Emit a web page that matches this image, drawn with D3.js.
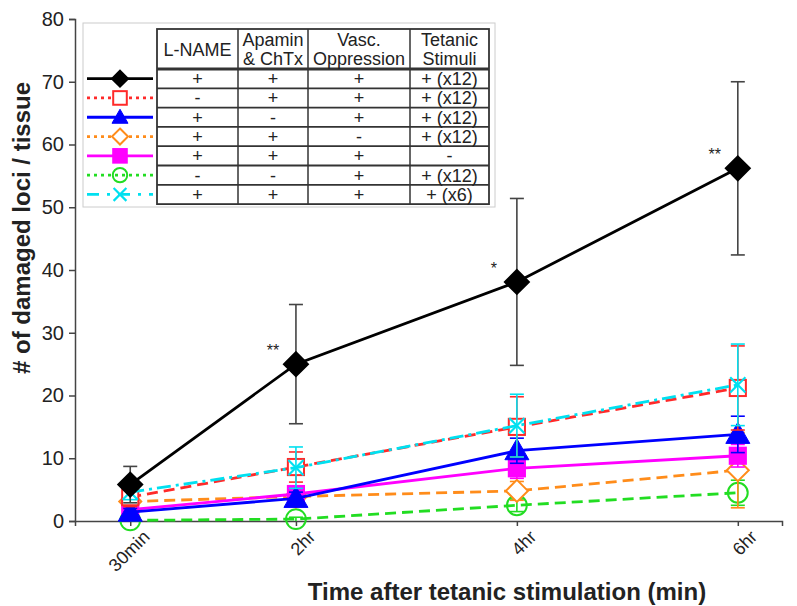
<!DOCTYPE html>
<html>
<head>
<meta charset="utf-8">
<script src="https://cdn.jsdelivr.net/npm/d3@7"></script>
<style>
  body { margin: 0; background: #fff; }
  text { font-family: Arial, "Liberation Sans", sans-serif; fill: #222; }
</style>
</head>
<body>
<div id="chart"></div>
<script>
// data
var times = [0.5, 2, 4, 6];            // hours
var timeLabels = ['30min', '2hr', '4hr', '6hr'];
var yTicks = [0, 10, 20, 30, 40, 50, 60, 70, 80];

var blackVals = [5.8, 25.0, 38.1, 56.2];
var blackErr = [2.9, 9.5, 13.3, 13.8];
var redVals = [3.8, 8.6, 15.0, 21.2];
var redErr = [1.5, 2.4, 4.8, 6.7];
var blueVals = [1.4, 3.6, 11.2, 13.8];
var blueErr = [0.6, 1.0, 2.0, 2.9];
var orangeVals = [3.1, 3.9, 4.8, 8.1];
var orangeErr = [0.8, 1.0, 1.5, 6.0];
var magentaVals = [1.8, 4.3, 8.4, 10.4];
var magentaErr = [0.6, 1.0, 1.6, 1.8];
var greenVals = [0.1, 0.3, 2.5, 4.5];
var greenErr = [0.3, 0.3, 1.0, 2.0];
var cyanVals = [4.6, 8.5, 15.2, 21.7];
var cyanErr = [1.2, 3.3, 5.0, 6.5];

var legendHeader = [['L-NAME'], ['Apamin', '& ChTx'], ['Vasc.', 'Oppression'], ['Tetanic', 'Stimuli']];
var legendCells = [
  ['+', '+', '+', '+ (x12)'],
  ['-', '+', '+', '+ (x12)'],
  ['+', '-', '+', '+ (x12)'],
  ['+', '+', '-', '+ (x12)'],
  ['+', '+', '+', '-'],
  ['-', '-', '+', '+ (x12)'],
  ['+', '+', '+', '+ (x6)']
];

var stars = [{t: 2, v: 25.0, s: '**'}, {t: 4, v: 38.1, s: '*'}, {t: 6, v: 56.2, s: '**'}];

var series = [
  {name: 'black', vals: blackVals, err: blackErr, color: '#000', errColor: '#444', dash: null, legDash: null, shape: 'diamond', fill: true, size: 24},
  {name: 'red', vals: redVals, err: redErr, color: '#ff2a2a', errColor: '#ff2a2a', dash: '11,6', legDash: '3,4', shape: 'square', fill: false, size: 19},
  {name: 'blue', vals: blueVals, err: blueErr, color: '#0000ff', errColor: '#0000ff', dash: null, legDash: null, shape: 'triangle', fill: true, size: 24},
  {name: 'orange', vals: orangeVals, err: orangeErr, color: '#ff8c1a', errColor: '#ff8c1a', dash: '11,6', legDash: '3,4', shape: 'diamond', fill: false, size: 22},
  {name: 'magenta', vals: magentaVals, err: magentaErr, color: '#ff00ff', errColor: '#ff00ff', dash: null, legDash: null, shape: 'square', fill: true, size: 19},
  {name: 'green', vals: greenVals, err: greenErr, color: '#22dd22', errColor: '#22dd22', dash: '11,6', legDash: '3,4', shape: 'circle', fill: false, size: 22},
  {name: 'cyan', vals: cyanVals, err: cyanErr, color: '#00e0f0', errColor: '#00e0f0', dash: '14,5,3,5', legDash: '12,8,3,8', shape: 'cross', fill: false, size: 19}
];
var drawOrder = ['green', 'orange', 'magenta', 'blue', 'red', 'cyan', 'black'];

var width = 797, height = 606;

var svg = d3.select('#chart').append('svg')
  .attr('width', width)
  .attr('height', height);

var x = d3.scaleLinear().domain([0, 6.4]).range([75, 782]);
var y = d3.scaleLinear().domain([0, 80]).range([521, 19]);

// axes
var yAxis = svg.append('g')
  .attr('transform', 'translate(75,0)')
  .call(d3.axisLeft(y).tickValues(yTicks).tickSize(6).tickPadding(5));
yAxis.select('.domain').attr('stroke', '#444').attr('stroke-width', 1.5);
yAxis.selectAll('.tick line').attr('stroke', '#444').attr('stroke-width', 1.5);
yAxis.selectAll('.tick text')
  .style('font-family', 'Arial, "Liberation Sans", sans-serif')
  .style('font-size', '20px').attr('fill', '#222');

var xAxis = svg.append('g')
  .attr('transform', 'translate(0,521)')
  .call(d3.axisBottom(x).tickValues(times).tickSize(5).tickFormat(function(d, i) { return timeLabels[i]; }));
xAxis.select('.domain').attr('stroke', '#444').attr('stroke-width', 1.5);
xAxis.selectAll('.tick line').attr('stroke', '#444').attr('stroke-width', 1.5);
xAxis.selectAll('.tick text')
  .style('font-family', 'Arial, "Liberation Sans", sans-serif')
  .style('font-size', '18px').attr('fill', '#222')
  .attr('text-anchor', 'end')
  .attr('y', 0).attr('dy', 0)
  .attr('transform', 'translate(20,17) rotate(-45)');

// titles
svg.append('text')
  .attr('transform', 'translate(30,228) rotate(-90)')
  .attr('text-anchor', 'middle')
  .style('font-size', '24px').style('font-weight', 'bold')
  .text('# of damaged loci / tissue');

svg.append('text')
  .attr('x', 507).attr('y', 600)
  .attr('text-anchor', 'middle')
  .style('font-size', '24px').style('font-weight', 'bold')
  .text('Time after tetanic stimulation (min)');

// marker drawing
function drawMarker(g, s, cx, cy, size) {
  var h = size / 2;
  var fill = s.fill ? s.color : '#fff';
  if (s.shape === 'diamond') {
    g.append('path').attr('d', 'M' + cx + ',' + (cy - h) + 'L' + (cx + h) + ',' + cy + 'L' + cx + ',' + (cy + h) + 'L' + (cx - h) + ',' + cy + 'Z')
      .attr('fill', fill).attr('stroke', s.color).attr('stroke-width', 2);
  } else if (s.shape === 'square') {
    var q = h * 0.85;
    g.append('rect').attr('x', cx - q).attr('y', cy - q).attr('width', 2 * q).attr('height', 2 * q)
      .attr('fill', fill).attr('stroke', s.color).attr('stroke-width', 2);
  } else if (s.shape === 'triangle') {
    g.append('path').attr('d', 'M' + cx + ',' + (cy - h) + 'L' + (cx + h) + ',' + (cy + h * 0.75) + 'L' + (cx - h) + ',' + (cy + h * 0.75) + 'Z')
      .attr('fill', fill).attr('stroke', s.color).attr('stroke-width', 1);
  } else if (s.shape === 'circle') {
    g.append('circle').attr('cx', cx).attr('cy', cy).attr('r', h * 0.9)
      .attr('fill', 'none').attr('stroke', s.color).attr('stroke-width', 2);
  } else if (s.shape === 'cross') {
    var c = h * 0.8;
    g.append('path').attr('d', 'M' + (cx - c) + ',' + (cy - c) + 'L' + (cx + c) + ',' + (cy + c) + 'M' + (cx - c) + ',' + (cy + c) + 'L' + (cx + c) + ',' + (cy - c))
      .attr('stroke', s.color).attr('stroke-width', 2.2).attr('fill', 'none');
  }
}

var line = d3.line()
  .x(function(d) { return x(d.t); })
  .y(function(d) { return y(d.v); });

var plot = svg.append('g');

drawOrder.forEach(function(nm) {
  var s = series.find(function(d) { return d.name === nm; });
  var pts = times.map(function(t, i) { return {t: t, v: s.vals[i], e: s.err[i]}; });
  var g = plot.append('g');

  // error bars
  pts.forEach(function(p) {
    var lo = Math.max(0, p.v - p.e), hi = p.v + p.e;
    g.append('line').attr('x1', x(p.t)).attr('x2', x(p.t)).attr('y1', y(lo)).attr('y2', y(hi))
      .attr('stroke', s.errColor).attr('stroke-width', 1.6);
    [lo, hi].forEach(function(v) {
      if (v <= 0) return;
      g.append('line').attr('x1', x(p.t) - 7).attr('x2', x(p.t) + 7).attr('y1', y(v)).attr('y2', y(v))
        .attr('stroke', s.errColor).attr('stroke-width', 1.6);
    });
  });

  g.append('path').datum(pts)
    .attr('d', line)
    .attr('fill', 'none')
    .attr('stroke', s.color)
    .attr('stroke-width', 2.8)
    .attr('stroke-dasharray', s.dash);

  pts.forEach(function(p) {
    drawMarker(g, s, x(p.t), y(p.v), s.size);
  });
});

// significance stars
svg.selectAll('.star')
  .data(stars)
  .enter()
  .append('text')
  .attr('class', 'star')
  .attr('x', function(d) { return x(d.t) - 23; })
  .attr('y', function(d) { return y(d.v) - 8; })
  .attr('text-anchor', 'middle')
  .style('font-size', '16px')
  .text(function(d) { return d.s; });

// legend table
var legend = svg.append('g');
legend.append('rect')
  .attr('x', 83).attr('y', 23).attr('width', 412).attr('height', 184)
  .attr('fill', '#fff').attr('stroke', '#ccc').attr('stroke-width', 1);

var colX = [157, 238, 308, 410, 489];
var headTop = 29, headBot = 69, rowH = 19.3;

legend.append('rect')
  .attr('x', colX[0]).attr('y', headTop)
  .attr('width', colX[4] - colX[0]).attr('height', headBot + rowH * 7 - headTop)
  .attr('fill', 'none').attr('stroke', '#333').attr('stroke-width', 1.8);

colX.slice(1, 4).forEach(function(cx) {
  legend.append('line').attr('x1', cx).attr('x2', cx).attr('y1', headTop).attr('y2', headBot + rowH * 7)
    .attr('stroke', '#333').attr('stroke-width', 1.5);
});
d3.range(7).forEach(function(i) {
  legend.append('line').attr('x1', colX[0]).attr('x2', colX[4])
    .attr('y1', headBot + rowH * i).attr('y2', headBot + rowH * i)
    .attr('stroke', '#333').attr('stroke-width', i === 0 ? 3 : 1.8);
});

legendHeader.forEach(function(lines, j) {
  var cx = (colX[j] + colX[j + 1]) / 2;
  var t = legend.append('text')
    .attr('text-anchor', 'middle')
    .style('font-size', '18px');
  if (lines.length === 1) {
    t.attr('x', cx).attr('y', 56).text(lines[0]);
  } else {
    t.append('tspan').attr('x', cx).attr('y', 46).text(lines[0]);
    t.append('tspan').attr('x', cx).attr('y', 65).text(lines[1]);
  }
});

legendCells.forEach(function(row, i) {
  var cy = headBot + rowH * i + rowH / 2 + 6.5;
  row.forEach(function(cell, j) {
    legend.append('text')
      .attr('x', (colX[j] + colX[j + 1]) / 2)
      .attr('y', cy)
      .attr('text-anchor', 'middle')
      .style('font-size', '18px')
      .text(cell);
  });
});

series.forEach(function(s, i) {
  var cy = headBot + rowH * i + rowH / 2;
  legend.append('line').attr('x1', 87).attr('x2', 153).attr('y1', cy).attr('y2', cy)
    .attr('stroke', s.color).attr('stroke-width', 2.8)
    .attr('stroke-dasharray', s.legDash);
  drawMarker(legend, s, 120, cy, 16);
});
</script>
</body>
</html>
